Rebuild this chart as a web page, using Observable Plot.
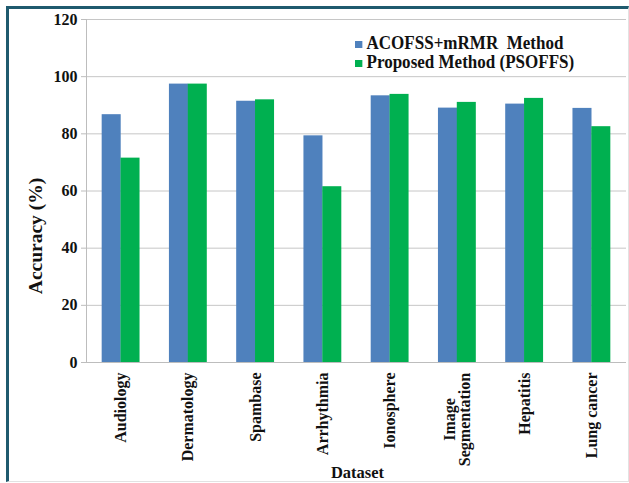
<!DOCTYPE html>
<html>
<head>
<meta charset="utf-8">
<script src="https://cdn.jsdelivr.net/npm/d3@7"></script>
<script src="https://cdn.jsdelivr.net/npm/@observablehq/plot@0.6"></script>
<style>
  html, body { margin: 0; padding: 0; background: #fff; }
  #wrap { position: relative; width: 629px; height: 483px; overflow: hidden; }
  #box {
    position: absolute; left: 6px; top: 6px; width: 619px; height: 472px;
    border-top: 3px solid #1f5a6e; border-left: 3px solid #1f5a6e;
    border-right: 1px solid #e2e2e2; border-bottom: 1px solid #e2e2e2;
  }
  #legend {
    position: absolute; left: 355px; top: 34px;
    font-family: "Liberation Serif", "Times New Roman", serif;
    font-weight: bold; font-size: 18.5px; line-height: 19px; color: #111;
    white-space: pre; transform: scaleX(0.92); transform-origin: left top;
  }
  #legend .sw { display: inline-block; width: 7.5px; height: 7px; margin-right: 5px; vertical-align: 1px; }
  #chart { position: absolute; left: 0; top: 0; }
</style>
</head>
<body>
<div id="wrap">
  <div id="box"></div>
  <div id="chart"></div>
  <div id="legend"></div>
</div>
<script>
// Classification accuracy per dataset for two feature-selection methods
const datasets = ["Audiology", "Dermatology", "Spambase", "Arrhythmia", "Ionosphere", "Image Segmentation", "Hepatitis", "Lung cancer"];
const tickLabels = ["Audiology", "Dermatology", "Spambase", "Arrhythmia", "Ionosphere", "Image\nSegmentation", "Hepatitis", "Lung cancer"];
const series = ["ACOFSS+mRMR  Method", "Proposed Method (PSOFFS)"];
const acofss = [86.7, 97.4, 91.4, 79.3, 93.3, 89.0, 90.4, 88.9];
const psoffs = [71.5, 97.4, 91.9, 61.5, 93.8, 91.0, 92.4, 82.5];
const colors = ["#4f81bd", "#00b050"];
const yTicks = [0, 20, 40, 60, 80, 100, 120];

const rowsA = datasets.map((d, i) => ({dataset: d, value: acofss[i]}));
const rowsB = datasets.map((d, i) => ({dataset: d, value: psoffs[i]}));

const W = 629, H = 483;
const margin = {left: 86, right: 3, top: 19, bottom: 121};
const padInner = 0.437, padOuter = 0.233;

// half of a category band: each series takes one side of it
const band = d3.scaleBand().domain(datasets)
  .range([margin.left, W - margin.right])
  .paddingInner(padInner).paddingOuter(padOuter);
const half = band.bandwidth() / 2;

const serif = '"Liberation Serif", "Times New Roman", serif';
const wrapped = tickLabels.filter(t => t.includes("\n"));

const chart = Plot.plot({
  width: W,
  height: H,
  marginLeft: margin.left,
  marginRight: margin.right,
  marginTop: margin.top,
  marginBottom: margin.bottom,
  style: {fontFamily: serif, fontSize: "16px", fontWeight: "bold", color: "#111", background: "transparent"},
  x: {domain: datasets, paddingInner: padInner, paddingOuter: padOuter, round: false, label: null},
  y: {domain: [0, 120], label: null},
  marks: [
    Plot.gridY(yTicks, {stroke: "#c6c6c6", strokeOpacity: 1}),
    Plot.barY(rowsA, {x: "dataset", y: "value", fill: colors[0], insetLeft: 0, insetRight: half - 0.1}),
    Plot.barY(rowsB, {x: "dataset", y: "value", fill: colors[1], insetRight: 0, insetLeft: half - 0.1}),
    Plot.ruleY([0], {stroke: "#bdbdbd"}),
    Plot.frame({anchor: "left", stroke: "#bdbdbd"}),
    Plot.axisY(yTicks, {tickSize: 5, tickPadding: 4, stroke: "#bdbdbd", label: null, fontSize: 16}),
    Plot.axisX({
      tickSize: 0, tickPadding: 10, tickRotate: -90, textAnchor: "end", lineAnchor: "middle",
      label: null, fontSize: 16,
      tickFormat: d => {
        const t = tickLabels[datasets.indexOf(d)];
        return t.includes("\n") ? "" : t;
      }
    }),
    // two-line category label, each line centred under its band
    Plot.text(wrapped, {
      x: t => datasets[tickLabels.indexOf(t)], y: () => 0, text: d => d,
      rotate: -90, textAnchor: "middle", lineAnchor: "middle", lineHeight: 0.95,
      dy: 57, fontSize: 16
    }),
    Plot.text(["Accuracy (%)"], {
      frameAnchor: "left", text: d => d, rotate: -90, textAnchor: "middle", lineAnchor: "middle",
      dx: -51, dy: 45, fontSize: 19.5
    }),
    Plot.text(["Dataset"], {
      frameAnchor: "bottom", text: d => d, textAnchor: "middle", lineAnchor: "middle",
      dy: 110, dx: 1, fontSize: 16.5
    })
  ]
});
document.getElementById("chart").append(chart);

// legend
const legend = document.getElementById("legend");
series.forEach((s, i) => {
  const row = document.createElement("div");
  const sw = document.createElement("span");
  sw.className = "sw";
  sw.style.background = colors[i];
  row.append(sw, document.createTextNode(s));
  legend.append(row);
});
</script>
</body>
</html>
